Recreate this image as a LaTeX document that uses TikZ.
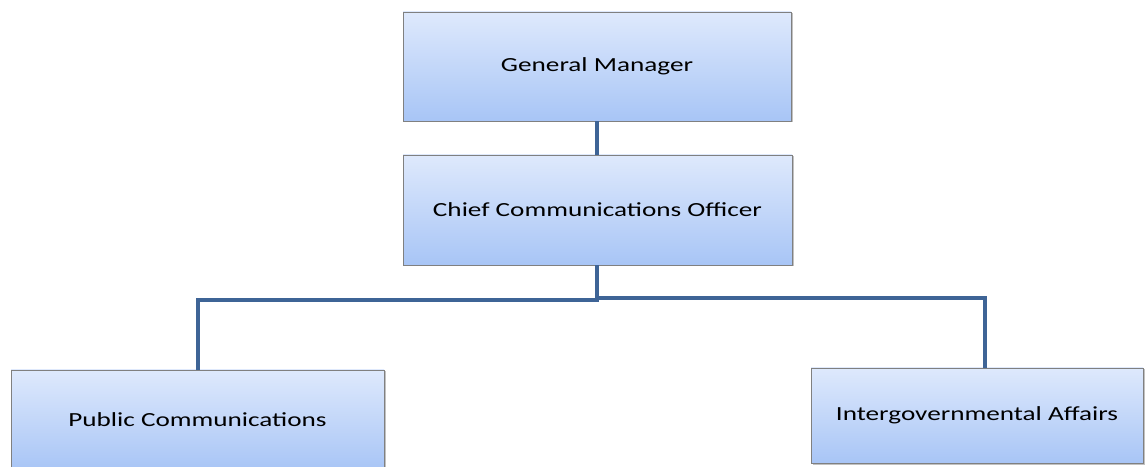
\documentclass[tikz,border=0pt]{standalone}
\usepackage{fontspec}
\setmainfont{Carlito}[FakeStretch=1.36]
\usetikzlibrary{shadows}
\definecolor{boxtop}{RGB}{222,233,252}
\definecolor{boxbot}{RGB}{168,197,246}
\definecolor{boxline}{RGB}{128,128,128}
\definecolor{conn}{RGB}{62,100,150}
\tikzset{
  orgbox/.style={draw=boxline, line width=0.8pt, top color=boxtop, bottom color=boxbot,
    minimum width=#1, inner sep=0pt, font=\fontsize{20}{24}\selectfont,
    drop shadow={shadow xshift=1.5pt, shadow yshift=-1.5pt, opacity=0.35, fill=black!70}},
  link/.style={draw=conn, line width=4.5pt, line join=miter}
}
\begin{document}
\begin{tikzpicture}[x=1pt,y=1pt]
\useasboundingbox (0,0) rectangle (1146,466);
\node[orgbox=388pt, minimum height=109pt] (gm) at (597,399.5) {General Manager};
\node[orgbox=389pt, minimum height=110pt] (cco) at (597.5,256) {Chief Communications Officer};
\node[orgbox=373pt, minimum height=100pt] (pc) at (197.5,46) {Public Communications};
\node[orgbox=332pt, minimum height=95pt] (ia) at (977,50.5) {Intergovernmental Affairs};
\coordinate (jl) at (198,166);
\coordinate (jr) at (985,168);
\draw[link] (gm.south -| 597,0) -- (cco.north -| 597,0);
\draw[link] (cco.south -| 597,0) |- (jl) -- (jl |- pc.north);
\draw[link] (cco.south -| 597,0) |- (jr) -- (jr |- ia.north);
\end{tikzpicture}
\end{document}
